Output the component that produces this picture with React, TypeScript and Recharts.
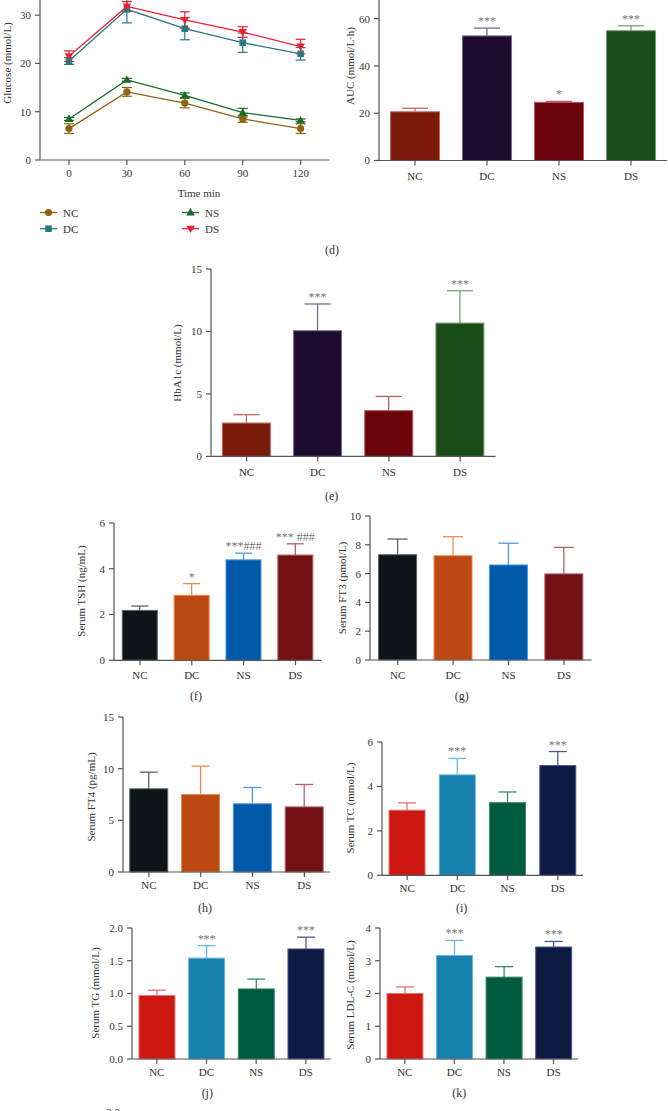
import React from "react";
import { BarChart, Bar, LineChart, Line, XAxis, YAxis, ErrorBar } from "recharts";

const groups = ["NC", "DC", "NS", "DS"];
const times = [0, 30, 60, 90, 120];

// OGTT glucose, mmol/L (mean and SD per time point)
const ncGlucose = [6.5, 14.1, 11.8, 8.5, 6.5];
const ncGlucoseSd = [1.0, 0.9, 1.0, 0.7, 1.0];
const dcGlucose = [20.5, 31.2, 27.2, 24.3, 22.0];
const dcGlucoseSd = [0.7, 2.8, 2.3, 2.0, 1.3];
const nsGlucose = [8.5, 16.6, 13.4, 9.8, 8.2];
const nsGlucoseSd = [0.3, 0.3, 0.5, 0.9, 0.3];
const dsGlucose = [21.5, 31.8, 29.0, 26.5, 23.5];
const dsGlucoseSd = [1.1, 1.0, 1.7, 1.1, 1.5];

const aucValues = [20.6, 52.7, 24.6, 54.9];
const aucSd = [1.5, 3.3, 0.4, 2.1];
const aucSig = ["", "***", "*", "***"];

const hba1cValues = [2.67, 10.06, 3.66, 10.67];
const hba1cSd = [0.67, 2.14, 1.14, 2.59];
const hba1cSig = ["", "***", "", "***"];

const tshValues = [2.18, 2.84, 4.39, 4.6];
const tshSd = [0.19, 0.51, 0.29, 0.49];
const tshSig = ["", "*", "***###", "*** ###"];

const ft3Values = [7.31, 7.24, 6.6, 5.98];
const ft3Sd = [1.09, 1.32, 1.51, 1.84];

const ft4Values = [8.05, 7.5, 6.6, 6.3];
const ft4Sd = [1.61, 2.74, 1.58, 2.17];

const tcValues = [2.93, 4.52, 3.27, 4.94];
const tcSd = [0.33, 0.74, 0.48, 0.63];
const tcSig = ["", "***", "", "***"];

const tgValues = [0.97, 1.54, 1.07, 1.68];
const tgSd = [0.08, 0.19, 0.15, 0.18];
const tgSig = ["", "***", "", "***"];

const ldlValues = [2.0, 3.16, 2.5, 3.42];
const ldlSd = [0.2, 0.46, 0.32, 0.17];
const ldlSig = ["", "***", "", "***"];

const FONT = "'Liberation Serif', 'DejaVu Serif', serif";
const TEXT = "#333";
const AXIS = "#555";

const glucosePal = { NC: "#8c6414", DC: "#2a7880", NS: "#1a6a28", DS: "#ee2030" };

const palA = {
  fill: ["#7a1a0c", "#1d0b30", "#6a040a", "#1a4c17"],
  edge: ["#c46a60", "#7a6a98", "#b85a60", "#7aa076"],
};
const palB = {
  fill: ["#0d1519", "#bd4912", "#0058a8", "#721014"],
  edge: ["#5a6466", "#ea8a50", "#4a98e0", "#b8606a"],
};
const palC = {
  fill: ["#cc1810", "#1681ae", "#005b3e", "#0d1a42"],
  edge: ["#ea7070", "#6ab8e0", "#3a8a6a", "#4a5a8a"],
};

const PAD_L = 40;
const PAD_T = 24;
const PAD_R = 6;
const PAD_B = 30;

const tickStyle = { fontSize: 11, fill: TEXT, fontFamily: FONT };
const axisStyle = { stroke: AXIS, strokeWidth: 1.2 };

type Rect = { left: number; top: number; right: number; bottom: number };

function barShape(pal: { fill: string[]; edge: string[] }, cap: number) {
  // eslint-disable-next-line @typescript-eslint/no-explicit-any
  return (props: any) => {
    const { x, y, width, height, payload } = props;
    const i = groups.indexOf(payload.name);
    const perUnit = height / payload.value;
    const errTop = y - payload.sd * perUnit;
    const cx = x + width / 2;
    return (
      <g>
        <line x1={cx} x2={cx} y1={y} y2={errTop} stroke={pal.edge[i]} strokeWidth={1.3} />
        <line x1={cx - cap} x2={cx + cap} y1={errTop} y2={errTop} stroke={pal.edge[i]} strokeWidth={1.3} />
        <rect x={x} y={y} width={width} height={height} fill={pal.fill[i]} stroke={pal.edge[i]} strokeWidth={1} />
        {payload.sig ? (
          <text x={cx} y={errTop - 3} textAnchor="middle" fontSize={12} fill="#777" fontFamily={FONT}>
            {payload.sig}
          </text>
        ) : null}
      </g>
    );
  };
}

function BarPanel({
  rect,
  values,
  sd,
  sig,
  pal,
  domain,
  ticks,
  cap,
  gap = "15%",
  tickMargin = 6,
  decimals = 0,
}: {
  rect: Rect;
  values: number[];
  sd: number[];
  sig?: string[];
  pal: { fill: string[]; edge: string[] };
  domain: [number, number];
  ticks: number[];
  cap: number;
  gap?: string;
  tickMargin?: number;
  decimals?: number;
}) {
  const data = groups.map((name, i) => ({
    name,
    value: values[i],
    sd: sd[i],
    sig: sig ? sig[i] : "",
  }));
  const w = rect.right - rect.left + PAD_L + PAD_R;
  const h = rect.bottom - rect.top + PAD_T + PAD_B;
  return (
    <div style={{ position: "absolute", left: rect.left - PAD_L, top: rect.top - PAD_T }}>
      <BarChart
        width={w}
        height={h}
        data={data}
        margin={{ top: PAD_T, right: PAD_R, left: 0, bottom: 0 }}
        barCategoryGap={gap}
      >
        <XAxis
          dataKey="name"
          height={PAD_B}
          interval={0}
          tickSize={5}
          tickMargin={tickMargin}
          tick={tickStyle}
          axisLine={axisStyle}
          tickLine={axisStyle}
        />
        <YAxis
          width={PAD_L}
          domain={domain}
          ticks={ticks}
          interval={0}
          tickSize={5}
          tickMargin={4}
          tick={tickStyle}
          axisLine={axisStyle}
          tickLine={axisStyle}
          tickFormatter={(v: number) => v.toFixed(decimals)}
        />
        <Bar dataKey="value" isAnimationActive={false} shape={barShape(pal, cap)} />
      </BarChart>
    </div>
  );
}

function markerPath(kind: string, cx: number, cy: number, color: string, key?: string) {
  if (kind === "circle") return <circle key={key} cx={cx} cy={cy} r={3.6} fill={color} />;
  if (kind === "square")
    return <rect key={key} x={cx - 3.3} y={cy - 3.3} width={6.6} height={6.6} fill={color} />;
  if (kind === "up")
    return <path key={key} d={`M${cx},${cy - 4.4}L${cx + 4.3},${cy + 3}L${cx - 4.3},${cy + 3}Z`} fill={color} />;
  return <path key={key} d={`M${cx},${cy + 4.4}L${cx + 4.3},${cy - 3}L${cx - 4.3},${cy - 3}Z`} fill={color} />;
}

function dotOf(kind: string, color: string) {
  // eslint-disable-next-line @typescript-eslint/no-explicit-any
  return (p: any) => markerPath(kind, p.cx, p.cy, color, `${kind}-${p.index}`);
}

function GlucosePanel() {
  const rect: Rect = { left: 40, top: -9, right: 329.6, bottom: 160 };
  const data = times.map((t, i) => ({
    t,
    nc: ncGlucose[i],
    ncErr: ncGlucoseSd[i],
    dc: dcGlucose[i],
    dcErr: dcGlucoseSd[i],
    ns: nsGlucose[i],
    nsErr: nsGlucoseSd[i],
    ds: dsGlucose[i],
    dsErr: dsGlucoseSd[i],
  }));
  const series = [
    { key: "nc", kind: "circle", color: glucosePal.NC },
    { key: "dc", kind: "square", color: glucosePal.DC },
    { key: "ns", kind: "up", color: glucosePal.NS },
    { key: "ds", kind: "down", color: glucosePal.DS },
  ];
  return (
    <div style={{ position: "absolute", left: rect.left - PAD_L, top: rect.top - PAD_T }}>
      <LineChart
        width={rect.right - rect.left + PAD_L + PAD_R}
        height={rect.bottom - rect.top + PAD_T + PAD_B}
        data={data}
        margin={{ top: PAD_T, right: PAD_R, left: 0, bottom: 0 }}
      >
        <XAxis
          dataKey="t"
          type="number"
          domain={[-15, 135]}
          ticks={times}
          interval={0}
          height={PAD_B}
          tickSize={5}
          tickMargin={4}
          tick={tickStyle}
          axisLine={axisStyle}
          tickLine={axisStyle}
        />
        <YAxis
          width={PAD_L}
          domain={[0, 35]}
          ticks={[0, 10, 20, 30]}
          interval={0}
          tickSize={5}
          tickMargin={4}
          tick={tickStyle}
          axisLine={axisStyle}
          tickLine={axisStyle}
        />
        {series.map((s) => (
          <Line
            key={s.key}
            dataKey={s.key}
            stroke={s.color}
            strokeWidth={1.3}
            dot={dotOf(s.kind, s.color)}
            activeDot={false}
            isAnimationActive={false}
          >
            <ErrorBar
              dataKey={`${s.key}Err`}
              direction="y"
              width={5}
              stroke={s.color}
              strokeWidth={1.2}
              isAnimationActive={false}
            />
          </Line>
        ))}
      </LineChart>
    </div>
  );
}

function VLabel({ x, y, text }: { x: number; y: number; text: string }) {
  return (
    <text
      x={x}
      y={y}
      transform={`rotate(-90 ${x} ${y})`}
      textAnchor="middle"
      dominantBaseline="central"
      fontSize={11}
      fill={TEXT}
      fontFamily={FONT}
    >
      {text}
    </text>
  );
}

function Caption({ x, y, text, size = 12 }: { x: number; y: number; text: string; size?: number }) {
  return (
    <text x={x} y={y} textAnchor="middle" dominantBaseline="central" fontSize={size} fill={TEXT} fontFamily={FONT}>
      {text}
    </text>
  );
}

function LegendItem({ x, y, kind, color, label }: { x: number; y: number; kind: string; color: string; label: string }) {
  return (
    <g>
      <line x1={x} x2={x + 17} y1={y} y2={y} stroke={color} strokeWidth={1.3} />
      {markerPath(kind, x + 8.5, y, color)}
      <text x={x + 23} y={y} dominantBaseline="central" fontSize={11} fill={TEXT} fontFamily={FONT}>
        {label}
      </text>
    </g>
  );
}

export default function App() {
  return (
    <div
      style={{
        position: "absolute",
        left: 0,
        top: 0,
        width: 668,
        height: 1111,
        overflow: "hidden",
        background: "#fff",
        fontFamily: FONT,
      }}
    >
      <GlucosePanel />
      <BarPanel
        rect={{ left: 379, top: -4.8, right: 667, bottom: 160.7 }}
        values={aucValues}
        sd={aucSd}
        sig={aucSig}
        pal={palA}
        domain={[0, 70]}
        ticks={[0, 20, 40, 60]}
        cap={13}
        gap="16%"
        tickMargin={7}
      />
      <BarPanel
        rect={{ left: 211, top: 269.3, right: 495.7, bottom: 456.7 }}
        values={hba1cValues}
        sd={hba1cSd}
        sig={hba1cSig}
        pal={palA}
        domain={[0, 15]}
        ticks={[0, 5, 10, 15]}
        cap={13}
        gap="16%"
        tickMargin={7}
      />
      <BarPanel
        rect={{ left: 114.3, top: 522.7, right: 321.7, bottom: 660 }}
        values={tshValues}
        sd={tshSd}
        sig={tshSig}
        pal={palB}
        domain={[0, 6]}
        ticks={[0, 2, 4, 6]}
        cap={8.5}
        gap="16%"
      />
      <BarPanel
        rect={{ left: 370, top: 516, right: 591.7, bottom: 660 }}
        values={ft3Values}
        sd={ft3Sd}
        pal={palB}
        domain={[0, 10]}
        ticks={[0, 2, 4, 6, 8, 10]}
        cap={10}
        gap="15.5%"
      />
      <BarPanel
        rect={{ left: 122.7, top: 717.3, right: 330, bottom: 872.3 }}
        values={ft4Values}
        sd={ft4Sd}
        pal={palB}
        domain={[0, 15]}
        ticks={[0, 5, 10, 15]}
        cap={9}
        gap="13%"
        tickMargin={4}
      />
      <BarPanel
        rect={{ left: 382.3, top: 741.7, right: 583.3, bottom: 875 }}
        values={tcValues}
        sd={tcSd}
        sig={tcSig}
        pal={palC}
        domain={[0, 6]}
        ticks={[0, 2, 4, 6]}
        cap={9}
        gap="14%"
        tickMargin={4}
      />
      <BarPanel
        rect={{ left: 132.3, top: 928.3, right: 331, bottom: 1059.3 }}
        values={tgValues}
        sd={tgSd}
        sig={tgSig}
        pal={palC}
        domain={[0, 2]}
        ticks={[0, 0.5, 1, 1.5, 2]}
        cap={9}
        gap="14%"
        tickMargin={4}
        decimals={1}
      />
      <BarPanel
        rect={{ left: 380, top: 928.3, right: 578.3, bottom: 1059.3 }}
        values={ldlValues}
        sd={ldlSd}
        sig={ldlSig}
        pal={palC}
        domain={[0, 4]}
        ticks={[0, 1, 2, 3, 4]}
        cap={9}
        gap="14%"
        tickMargin={4}
      />

      <svg
        width={668}
        height={1111}
        style={{ position: "absolute", left: 0, top: 0, pointerEvents: "none" }}
      >
        <VLabel x={6.5} y={63} text="Glucose (mmol/L)" />
        <Caption x={199} y={193} text="Time min" size={11} />
        <LegendItem x={40} y={212.5} kind="circle" color={glucosePal.NC} label="NC" />
        <LegendItem x={40} y={228.7} kind="square" color={glucosePal.DC} label="DC" />
        <LegendItem x={182} y={212.5} kind="up" color={glucosePal.NS} label="NS" />
        <LegendItem x={182} y={228.7} kind="down" color={glucosePal.DS} label="DS" />
        <Caption x={332} y={250} text="(d)" />

        <VLabel x={350} y={66} text="AUC (mmol/L·h)" />
        <VLabel x={176.7} y={363} text="HbA1c (mmol/L)" />
        <Caption x={331.7} y={496} text="(e)" />

        <VLabel x={81} y={591} text="Serum TSH (ng/mL)" />
        <Caption x={196} y={696} text="(f)" />
        <VLabel x={341.7} y={588} text="Serum FT3 (pmol/L)" />
        <Caption x={461.7} y={696} text="(g)" />

        <VLabel x={91} y={797} text="Serum FT4 (pg/mL)" />
        <Caption x={205} y={908.3} text="(h)" />
        <VLabel x={350} y={808} text="Serum TC (mmol/L)" />
        <Caption x={461.7} y={908.3} text="(i)" />

        <VLabel x={95} y={993} text="Serum TG (mmol/L)" />
        <Caption x={207.3} y={1092.7} text="(j)" />
        <VLabel x={350} y={995} text="Serum LDL-C (mmol/L)" />
        <Caption x={459.3} y={1092.7} text="(k)" />

        <text x={113} y={1116} textAnchor="middle" fontSize={11} fill={TEXT} fontFamily={FONT}>
          2.0
        </text>
      </svg>
    </div>
  );
}
